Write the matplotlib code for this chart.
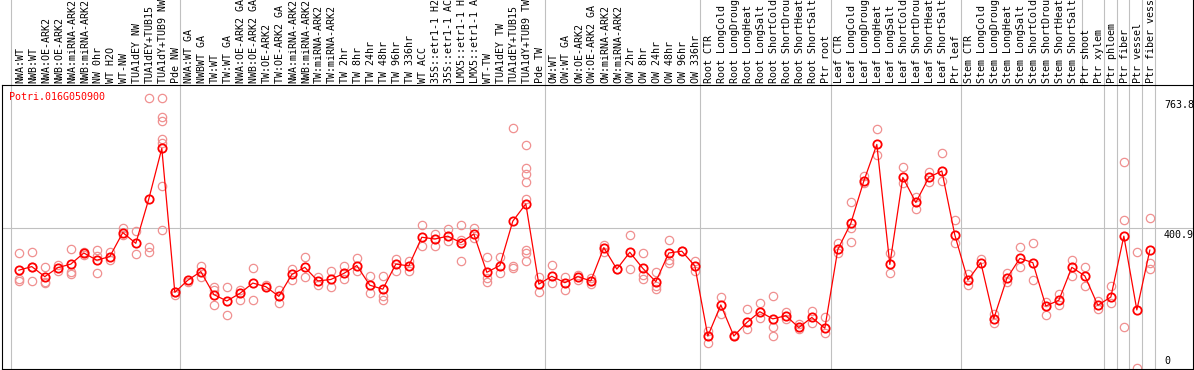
import matplotlib
matplotlib.use("Agg")
import matplotlib.pyplot as plt

gene = "Potri.016G050900"

samples = [
    "NWA:WT", "NWB:WT", "NWA:OE-ARK2", "NWB:OE-ARK2", "NWA:miRNA-ARK2", "NWB:miRNA-ARK2",
    "NW 0hr", "WT H2O", "WT-NW", "TUA1dEY NW", "TUA1dEY+TUB15", "TUA1dY+TUB9 NW", "Pde NW",
    "NWA:WT GA", "NWBWT GA", "TW:WT", "TW:WT GA", "NWA:OE-ARK2 GA", "NWB:OE-ARK2 GA",
    "TW:OE-ARK2", "TW:OE-ARK2 GA", "NWA:miRNA-ARK2", "NWB:miRNA-ARK2", "TW:miRNA-ARK2",
    "TW:miRNA-ARK2", "TW 2hr", "TW 8hr", "TW 24hr", "TW 48hr", "TW 96hr", "TW 336hr",
    "WT ACC", "35S::etr1-1 H2O", "35S::etr1-1 ACC", "LMX5::etr1-1 H2O", "LMX5::etr1-1 ACC",
    "WT-TW", "TUA1dEY TW", "TUA1dEY+TUB15", "TUA1dY+TUB9 TW", "Pde TW",
    "OW:WT", "OW:WT GA", "OW:OE-ARK2", "OW:OE-ARK2 GA", "OW:miRNA-ARK2", "OW:miRNA-ARK2",
    "OW 2hr", "OW 8hr", "OW 24hr", "OW 48hr", "OW 96hr", "OW 336hr",
    "Root CTR", "Root LongCold", "Root LongDrought", "Root LongHeat", "Root LongSalt",
    "Root ShortCold", "Root ShortDrought", "Root ShortHeat", "Root ShortSalt", "Ptr root",
    "Leaf CTR", "Leaf LongCold", "Leaf LongDrought", "Leaf LongHeat", "Leaf LongSalt",
    "Leaf ShortCold", "Leaf ShortDrought", "Leaf ShortHeat", "Leaf ShortSalt", "Ptr leaf",
    "Stem CTR", "Stem LongCold", "Stem LongDrought", "Stem LongHeat", "Stem LongSalt",
    "Stem ShortCold", "Stem ShortDrought", "Stem ShortHeat", "Stem ShortSalt",
    "Ptr shoot", "Ptr xylem", "Ptr phloem", "Ptr fiber", "Ptr vessel", "Ptr fiber vessel",
]

means = [
    284, 294, 266, 291, 301, 332, 312, 322, 389, 359, 483, 624, 222,
    256, 280, 216, 198, 219, 248, 238, 211, 272, 292, 254, 258, 275, 297, 242,
    231, 301, 296, 376, 371, 379, 361, 385, 278, 297, 421, 469, 245,
    267, 249, 266, 254, 347, 287, 334, 289, 252, 332, 337, 296,
    100, 187, 100, 138, 168, 148, 157, 124, 152, 122,
    342, 415, 533, 635, 300, 543, 473, 543, 561, 382,
    256, 305, 149, 261, 317, 305, 184, 200, 292, 268, 186,
    209, 379, 173, 340,
]

reps = [
    [331, 259, 254], [334, 294, 253], [292, 252, 247], [298, 282], [343, 280, 272],
    [335, 326], [340, 324, 275], [336, 312], [401, 382], [393, 328],
    [764, 350, 336], [764, 712, 700, 649, 638, 519, 396], [215, 222],
    [252], [297, 266], [236, 230, 186], [236, 158], [230, 202], [289, 202],
    [243], [230, 193], [287, 256], [322, 264], [266, 243], [282, 236],
    [297, 259], [319, 283], [268, 221], [268, 212, 201], [315, 283],
    [310, 282], [410, 352], [385, 352], [399, 366], [410, 368, 310],
    [403, 374], [322, 262, 252], [322, 275], [680, 296, 289],
    [633, 568, 552, 531, 484, 340, 333, 310], [264, 224],
    [298, 247], [266, 229], [270, 256], [261, 245], [354, 336], [287],
    [382, 286], [331, 270, 259], [280, 241, 231], [367, 312, 305], [337],
    [310, 282],
    [115, 82], [208, 163], [103], [175, 119], [191, 150], [212, 126, 99],
    [168, 147], [134, 119], [171, 136], [152, 108],
    [359, 331], [473, 401, 364], [547, 526], [677, 605], [331, 275],
    [571, 526], [487, 454], [559, 531], [610, 534], [424, 359],
    [272, 243], [315], [163, 136], [275, 252], [348, 294], [359, 256],
    [196, 158], [217, 187], [312, 268], [292, 240], [198, 175],
    [240, 193], [585, 424, 126], [336, 11], [431, 303, 286],
]

ytick_vals = [763.8, 400.9]

# separators between sample groups (one only in the header)
group_lines = [-0.6, 12.42, 40.45, 52.42, 62.45, 72.45, 83.45, 84.45, 85.42, 86.42, 87.42]
header_only_lines = [81.8]

mono = "DejaVu Sans Mono"
fs = 7.2
gray = "#c0c0c0"
pink = "#f09090"

fig = plt.figure(figsize=(11.94, 3.70), dpi=100)
ax = fig.add_axes([1.5 / 1194, 1 / 370, (1193 - 1.5) / 1194, 284 / 370])
ax.set_xlim(-1.331, 90.32)
ax.set_ylim(8.1, 801)
ax.set_xticks([])
ax.set_yticks([])
for s in ax.spines.values():
    s.set_linewidth(0.8)
    s.set_color("black")

top = 370 / 284 + 0.01
for xl in group_lines:
    ax.axvline(xl, 0, top, color=gray, lw=0.8, clip_on=False, zorder=1)
for xl in header_only_lines:
    ax.axvline(xl, 1, top, color=gray, lw=0.8, clip_on=False, zorder=1)
ax.axhline(ytick_vals[1], color=gray, lw=0.8, zorder=1)
ax.plot([1, 1], [1, top], transform=ax.transAxes, color="black", lw=0.8, clip_on=False)

x = list(range(len(samples)))
for i, r in enumerate(reps):
    ax.plot([i] * len(r), r, linestyle="none", marker="o", ms=6, mfc="none",
            mec=pink, mew=0.9, zorder=2, clip_on=False)
ax.plot(x, means, color="red", lw=0.9, zorder=3)
ax.plot(x, means, linestyle="none", marker="o", ms=6, mfc="none",
        mec="red", mew=1.3, zorder=4)

# sample names above the plot
for i, name in enumerate(samples):
    ax.text(i + 0.1, 1.007, name, transform=ax.get_xaxis_transform(), rotation=90,
            ha="center", va="bottom", family=mono, fontsize=fs, clip_on=False)

ax.text(0.006, 0.975, gene, transform=ax.transAxes, color="red", family=mono,
        fontsize=fs, ha="left", va="top")

for v in ytick_vals:
    ax.annotate(f"{v}", xy=(88.09, v), xytext=(0, -2), textcoords="offset pixels",
                ha="left", va="top", family=mono, fontsize=fs)
ax.annotate("0", xy=(88.09, 0), xycoords=ax.get_xaxis_transform(), xytext=(0, 3),
            textcoords="offset pixels", ha="left", va="bottom", family=mono, fontsize=fs)

fig.savefig("out.png", dpi=100)
